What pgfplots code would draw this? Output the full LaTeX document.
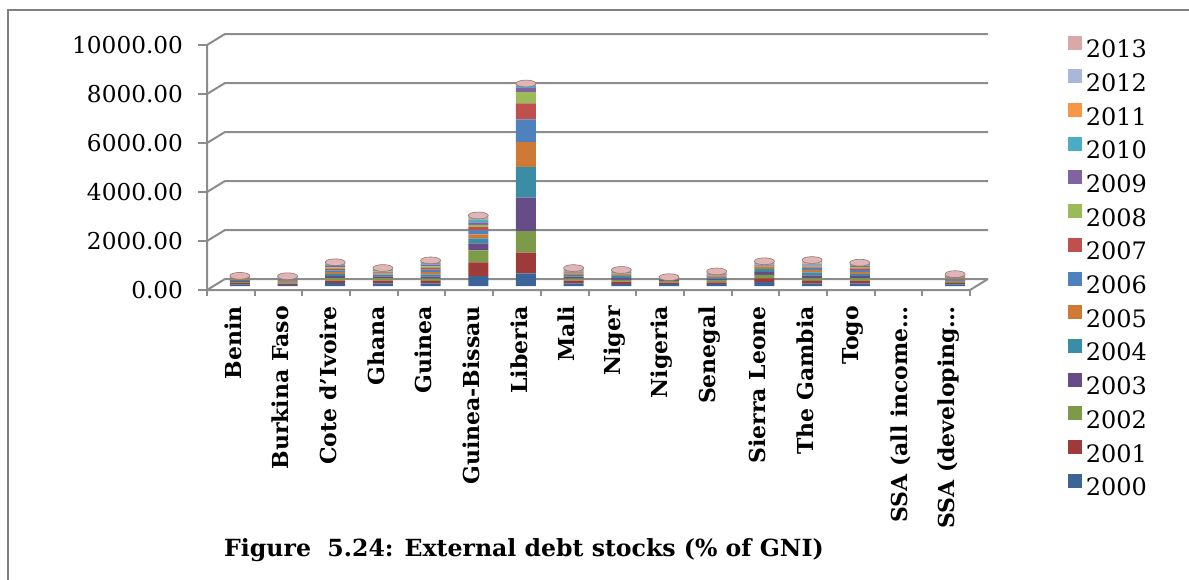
\documentclass[border=0pt]{standalone}
\usepackage{pgfplots}
\usepackage{pgfplotstable}
\pgfplotsset{compat=1.18}
\usepackage{fontspec}
\setmainfont{DejaVu Serif}
\definecolor{c2000}{HTML}{3C6497}
\definecolor{c2001}{HTML}{9E3B38}
\definecolor{c2002}{HTML}{7D9A48}
\definecolor{c2003}{HTML}{664D87}
\definecolor{c2004}{HTML}{3A8DA4}
\definecolor{c2005}{HTML}{CE7A34}
\definecolor{c2006}{HTML}{4F81BD}
\definecolor{c2007}{HTML}{C0504D}
\definecolor{c2008}{HTML}{9BBB59}
\definecolor{c2009}{HTML}{8064A2}
\definecolor{c2010}{HTML}{4BACC6}
\definecolor{c2011}{HTML}{F79646}
\definecolor{c2012}{HTML}{A8B8D8}
\definecolor{c2013}{HTML}{D9A9A8}
\definecolor{gridgray}{HTML}{8C8C8C}
\definecolor{framegray}{HTML}{808080}

\pgfplotstableread{
x a2000 a2001 a2002 a2003 a2004 a2005 a2006 a2007 a2008 a2009 a2010 a2011 a2012 a2013 total
0 60 55 50 42 40 37 15 14 14 16 17 18 18 20 416
1 50 47 42 37 35 38 18 18 17 20 20 19 19 19 399
2 115 105 105 88 78 72 72 68 58 53 48 43 36 28 969
3 110 105 95 85 70 55 22 25 25 30 27 26 28 32 735
4 105 100 95 90 85 90 105 70 65 72 66 57 25 22 1047
5 400 560 490 290 200 170 165 130 95 95 120 70 50 45 2880
6 517 843 884 1360 1251 1020 925 653 462 160 90 35 30 35 8265
7 110 105 90 75 65 60 28 28 25 28 28 27 30 33 732
8 90 85 80 75 70 55 20 20 20 25 25 25 30 35 655
9 75 65 65 55 45 22 5 4 4 5 4 4 4 4 361
10 75 75 72 58 50 42 22 25 23 29 30 29 31 35 596
11 160 150 140 130 120 100 45 22 20 24 27 26 24 22 1010
12 100 105 110 120 120 100 95 45 38 42 42 45 48 50 1060
13 110 105 95 90 85 80 80 75 60 55 55 20 20 22 952
15 65 60 58 50 42 33 24 22 20 23 21 21 22 24 485
}\debt

\pgfdeclareplotmark{cap}{%
  \pgfpathellipse{\pgfpointorigin}{\pgfqpoint{5pt}{0pt}}{\pgfqpoint{0pt}{1.7pt}}%
  \pgfusepathqfillstroke}

\begin{document}
\begin{tikzpicture}
\useasboundingbox (0,0) rectangle (594.5pt,289.5pt);
\draw[framegray, line width=1pt] (4pt,-2pt) -- (4pt,284.5pt) -- (600pt,284.5pt);

% front frame with ticks and labels
\begin{axis}[
  at={(103.5pt,144.5pt)}, anchor=south west,
  scale only axis, width=381.5pt, height=122.5pt,
  xmin=-0.5, xmax=15.5, ymin=0, ymax=10000,
  clip=false,
  axis line style={draw=none},
  tick align=outside,
  ytick={0,2000,4000,6000,8000,10000},
  ytick pos=left,
  major tick length=4.5pt,
  minor tick length=3pt,
  every major y tick/.append style={gridgray, line width=1pt},
  every major x tick/.append style={draw=none},
  every minor x tick/.append style={gridgray, line width=1pt},
  xtick pos=bottom,
  xtick={0,...,15},
  minor xtick={-0.5,0.5,...,15.5},
  scaled y ticks=false,
  yticklabel style={font=\fontsize{11.6}{13}\selectfont, xshift=-4pt,
    /pgf/number format/.cd, fixed, fixed zerofill, precision=2, 1000 sep={}, assume math mode=true},
  xticklabels={Benin, Burkina Faso, Cote d'Ivoire, Ghana, Guinea, Guinea-Bissau, Liberia, Mali, Niger, Nigeria, Senegal, Sierra Leone, The Gambia, Togo, SSA (all income…, SSA (developing…},
  xticklabel style={rotate=90, anchor=east, font=\fontsize{11}{13}\selectfont\bfseries, yshift=-1pt},
]
\pgfplotsinvokeforeach{0,2000,4000,6000,8000,10000}{
  \draw[gridgray, line width=1pt] (axis cs:-0.5,#1) -- ([shift={(9pt,5.5pt)}]axis cs:-0.5,#1) -- ([shift={(9pt,5.5pt)}]axis cs:15.5,#1);
}
\draw[gridgray, line width=1pt] (axis cs:-0.5,10000) -- (axis cs:-0.5,0) -- (axis cs:15.5,0) -- ([shift={(9pt,5.5pt)}]axis cs:15.5,0);
\end{axis}

% bars (mid depth)
\begin{axis}[
  at={(108pt,146.5pt)}, anchor=south west,
  scale only axis, width=381.5pt, height=122.5pt,
  xmin=-0.5, xmax=15.5, ymin=0, ymax=10000,
  hide axis, clip=false,
  ybar stacked, bar width=10pt,
  reverse legend,
  legend cell align=left,
  cyl/.style={draw=none, fill=#1},
  legend image code/.code={\fill[#1] (0pt,0.3pt) rectangle (7pt,7.3pt);},
  legend style={draw=none, fill=none, at={(1.108,1.04)}, anchor=north west,
    font=\fontsize{12}{14}\selectfont, row sep=2.35pt},
]
\addplot[cyl=c2000] table[x=x, y=a2000] {\debt};
\addplot[cyl=c2001] table[x=x, y=a2001] {\debt};
\addplot[cyl=c2002] table[x=x, y=a2002] {\debt};
\addplot[cyl=c2003] table[x=x, y=a2003] {\debt};
\addplot[cyl=c2004] table[x=x, y=a2004] {\debt};
\addplot[cyl=c2005] table[x=x, y=a2005] {\debt};
\addplot[cyl=c2006] table[x=x, y=a2006] {\debt};
\addplot[cyl=c2007] table[x=x, y=a2007] {\debt};
\addplot[cyl=c2008] table[x=x, y=a2008] {\debt};
\addplot[cyl=c2009] table[x=x, y=a2009] {\debt};
\addplot[cyl=c2010] table[x=x, y=a2010] {\debt};
\addplot[cyl=c2011] table[x=x, y=a2011] {\debt};
\addplot[cyl=c2012] table[x=x, y=a2012] {\debt};
\addplot[cyl=c2013] table[x=x, y=a2013] {\debt};
\legend{2000,2001,2002,2003,2004,2005,2006,2007,2008,2009,2010,2011,2012,2013}
\end{axis}

% cylinder caps
\begin{axis}[
  at={(108pt,146.5pt)}, anchor=south west,
  scale only axis, width=381.5pt, height=122.5pt,
  xmin=-0.5, xmax=15.5, ymin=0, ymax=10000,
  hide axis, clip=false,
]
\addplot[only marks, mark=cap, mark options={fill=c2013!85, draw=c2013!70!black, line width=0.3pt}] table[x=x, y=total] {\debt};
\end{axis}

\node[font=\fontsize{11.8}{14}\selectfont\bfseries] at (262pt,14.5pt) {Figure\ \ 5.24: External debt stocks (\% of GNI)};
\end{tikzpicture}
\end{document}
